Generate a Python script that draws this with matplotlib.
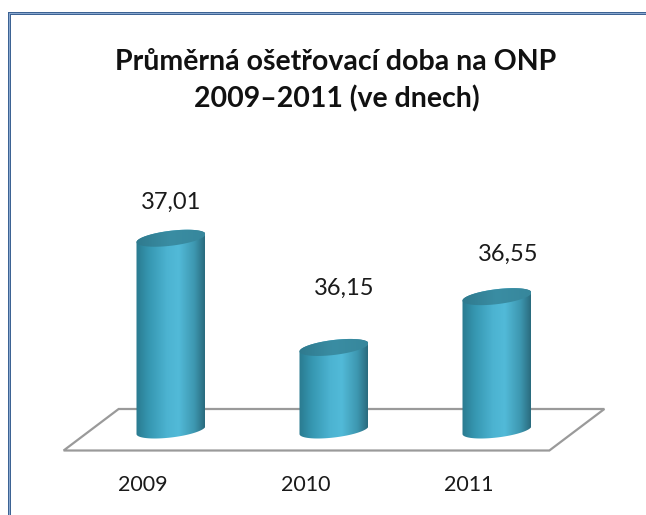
import numpy as np
import matplotlib
matplotlib.use("Agg")
import matplotlib.pyplot as plt
from matplotlib.path import Path
from matplotlib.patches import PathPatch, Polygon
from matplotlib.colors import LinearSegmentedColormap
from matplotlib.lines import Line2D

# --- data -------------------------------------------------------------
years = ["2009", "2010", "2011"]
values = [37.01, 36.15, 36.55]
value_labels = ["37,01", "36,15", "36,55"]
title_lines = ["Průměrná ošetřovací doba na ONP", "2009–2011 (ve dnech)"]

# --- layout / style ---------------------------------------------------
W, H, DPI = 646, 515, 100
BASE = 35.5                       # value axis minimum (floor level)
PX_PER_CAT = 163.0
PX_PER_UNIT = 127.0
X0_PX, BASE_PX = 171.0, 430.0     # pixel position of first category / floor

FONT = "Lato"
body_cmap = LinearSegmentedColormap.from_list(
    "cyl", [(0.0, "#2a7a8f"), (0.18, "#3596b0"), (0.45, "#4cb3d1"),
            (0.62, "#52bad8"), (0.85, "#3d97b0"), (1.0, "#2a6b7e")])
top_cmap = LinearSegmentedColormap.from_list(
    "cyltop", [(0.0, "#2f7a8e"), (0.5, "#3a8da3"), (1.0, "#37879c")])

fig = plt.figure(figsize=(W / DPI, H / DPI), dpi=DPI)
ax = fig.add_axes([0, 0, 1, 1])
ax.set_xlim(-X0_PX / PX_PER_CAT, (W - X0_PX) / PX_PER_CAT)
ax.set_ylim(BASE - (H - BASE_PX) / PX_PER_UNIT, BASE + BASE_PX / PX_PER_UNIT)
ax.axis("off")

def px_dx(p):
    return p / PX_PER_CAT

def px_dy(p):
    return p / PX_PER_UNIT

# chart frame (left and top edges only)
for lw, col in ((3.0, "#3d6394"), (1.0, "#8aa8cf")):
    fig.add_artist(Line2D([8.5 / W, 8.5 / W, 1.0], [0.0, 1 - 12.5 / H, 1 - 12.5 / H],
                          transform=fig.transFigure, color=col, lw=lw * 72 / DPI,
                          solid_joinstyle="miter", solid_capstyle="butt"))

# floor parallelogram
n = len(values)
x_left, x_right = -0.49, n - 1 + 0.49
front = (-27.5, -20.5)
back = (27.5, 21.0)
floor = [
    (x_left + px_dx(front[0]), BASE + px_dy(front[1])),
    (x_right + px_dx(front[0]), BASE + px_dy(front[1])),
    (x_right + px_dx(back[0]), BASE + px_dy(back[1])),
    (x_left + px_dx(back[0]), BASE + px_dy(back[1])),
]
ax.add_patch(Polygon(floor, closed=True, facecolor="white",
                     edgecolor="#9a9a9a", lw=1.6, zorder=1))

# cylinders
a = px_dx(34.5)       # horizontal radius
b = px_dy(7.5)        # vertical radius of the ellipses
s = px_dy(4.0)        # tilt of the ellipses (right side higher)

def ellipse_pts(xc, yc, t):
    return np.column_stack([xc + a * np.cos(t), yc + b * np.sin(t) + s * np.cos(t)])

grad = np.linspace(0, 1, 256).reshape(1, -1)
for i, v in enumerate(values):
    xc = i
    lower = ellipse_pts(xc, BASE, np.linspace(np.pi, 2 * np.pi, 80))
    upper = ellipse_pts(xc, v, np.linspace(0, np.pi, 80))
    body = np.vstack([lower, upper, lower[:1]])
    patch = PathPatch(Path(body, closed=True), facecolor="none",
                      edgecolor="none", zorder=3)
    ax.add_patch(patch)
    ymin = BASE - 2 * (b + s)
    ymax = v + 2 * (b + s)
    im = ax.imshow(grad, cmap=body_cmap, aspect="auto",
                   extent=(xc - a, xc + a, ymin, ymax), zorder=3,
                   interpolation="bilinear")
    im.set_clip_path(patch)

    top = ellipse_pts(xc, v, np.linspace(0, 2 * np.pi, 160))
    top_patch = PathPatch(Path(top, closed=True), facecolor="none",
                          edgecolor="none", zorder=4)
    ax.add_patch(top_patch)
    im2 = ax.imshow(grad, cmap=top_cmap, aspect="auto",
                    extent=(xc - a, xc + a, v - 2 * (b + s), v + 2 * (b + s)),
                    zorder=4, interpolation="bilinear")
    im2.set_clip_path(top_patch)

# value labels above the cylinders
label_offsets = [(0, 36), (10, 59), (11, 42)]
for i, (v, txt) in enumerate(zip(values, value_labels)):
    ax.annotate(txt, (i, v), xytext=label_offsets[i], textcoords="offset pixels",
                ha="center", va="center", fontsize=17, family=FONT,
                color="#1a1a1a", zorder=6)

# category labels below the floor
for i, yr in enumerate(years):
    ax.annotate(yr, (i, BASE), xytext=(-28, -55), textcoords="offset pixels",
                ha="center", va="center", fontsize=15.5, family=FONT,
                color="#1a1a1a")

# title
fig.text(336 / W, 1 - 62 / H, title_lines[0], ha="center", va="center",
         fontsize=20.5, fontweight="bold", family=FONT, color="#111111")
fig.text(337 / W, 1 - 99 / H, title_lines[1], ha="center", va="center",
         fontsize=20.5, fontweight="bold", family=FONT, color="#111111")

fig.savefig("out.png", dpi=DPI)
